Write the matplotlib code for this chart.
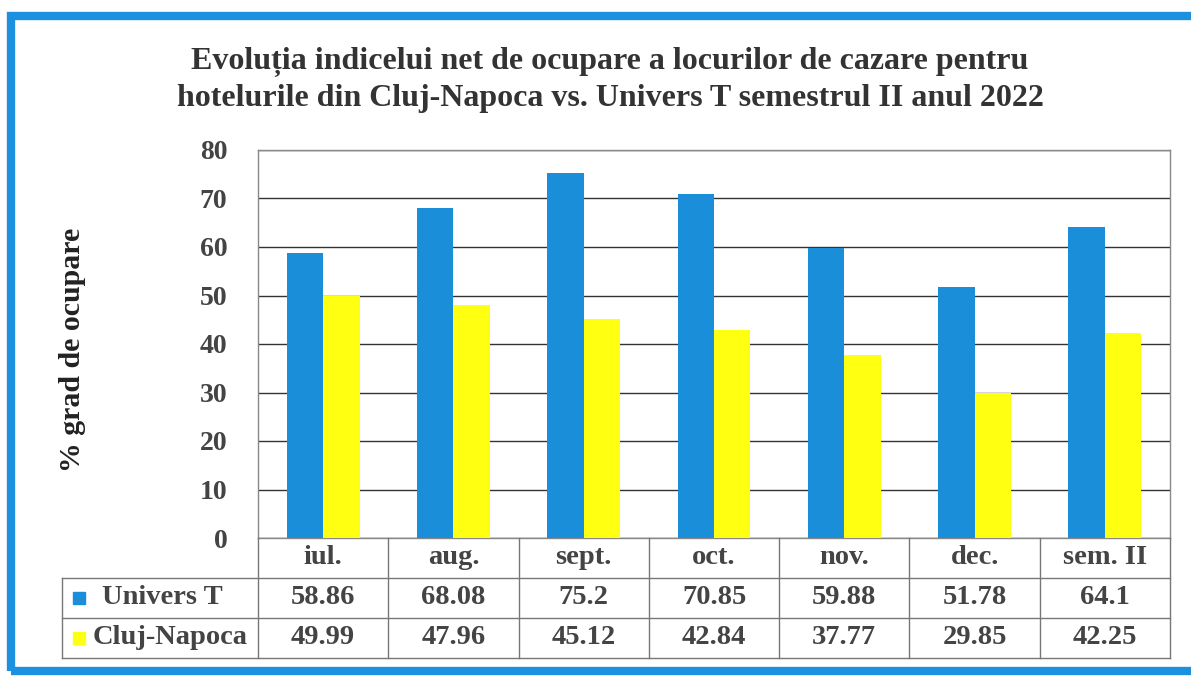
import numpy as np
import matplotlib.pyplot as plt
from matplotlib.patches import Rectangle

months = ['iul.', 'aug.', 'sept.', 'oct.', 'nov.', 'dec.', 'sem. II']
series_names = ['Univers T', 'Cluj-Napoca']
univers_t = [58.86, 68.08, 75.2, 70.85, 59.88, 51.78, 64.1]
cluj_napoca = [49.99, 47.96, 45.12, 42.84, 37.77, 29.85, 42.25]
value_labels = [['58.86', '68.08', '75.2', '70.85', '59.88', '51.78', '64.1'],
                ['49.99', '47.96', '45.12', '42.84', '37.77', '29.85', '42.25']]

colors = ['#1a8ed9', '#ffff12']
txt = '#444444'
plt.rcParams['font.family'] = ['Liberation Serif', 'DejaVu Serif']
plt.rcParams['font.weight'] = 'bold'

W, H = 1191, 679
fig = plt.figure(figsize=(W / 100, H / 100), dpi=100)


def fx(px):
    return px / W


def fy(py):
    return 1 - py / H


# blue frame
fig.patches.append(Rectangle((fx(11), fy(671)), fx(1250), fy(16) - fy(671), transform=fig.transFigure,
                             fill=False, edgecolor='#1e90e0', linewidth=6))

left, right, top, bottom = 258, 1170, 150, 538
ax = fig.add_axes([fx(left), fy(bottom), fx(right - left), fy(top) - fy(bottom)])

x = np.arange(len(months))
bw = 0.28
ax.bar(x - bw / 2, univers_t, bw, color=colors[0], zorder=3)
ax.bar(x + bw / 2, cluj_napoca, bw, color=colors[1], zorder=3)
ax.set_xlim(-0.5, len(months) - 0.5)
ax.set_ylim(0, 80)
ax.set_yticks(range(0, 81, 10))
ax.yaxis.grid(True, color='#333333', linewidth=1.0)
ax.set_axisbelow(True)
ax.tick_params(axis='y', length=0, pad=22, labelsize=20, labelcolor=txt)
ax.tick_params(axis='x', length=0, labelbottom=False)
for s in ax.spines.values():
    s.set_color('#888888')
    s.set_linewidth(1.0)

fig.text(fx(72), fy(350), '% grad de ocupare', rotation=90, ha='center', va='center',
         fontsize=21.5, fontweight='bold', color='#222222')

fig.text(fx(610), fy(80), 'Evoluția indicelui net de ocupare a locurilor de cazare pentru\n'
         'hotelurile din Cluj-Napoca vs. Univers T semestrul II anul 2022',
         ha='center', va='center', fontsize=23, color='#333333', linespacing=1.32)

# data table below the axes
col_w = (right - left) / len(months)
row_h = 40
label_left = 62
lc = '#777777'
edges_x = [left + i * col_w for i in range(len(months) + 1)]
# header row
for i, m in enumerate(months):
    fig.text(fx(left + (i + 0.5) * col_w), fy(bottom + row_h / 2), m, ha='center', va='center',
             fontsize=20.5, color=txt)
# value rows
name_x = [102, 93]
for r, name in enumerate(series_names):
    yc = bottom + row_h * (r + 1.5)
    for i, v in enumerate(value_labels[r]):
        fig.text(fx(left + (i + 0.5) * col_w), fy(yc), v, ha='center', va='center',
                 fontsize=20.5, color=txt)
    fig.patches.append(Rectangle((fx(73), fy(yc + 6)), fx(12), fy(yc - 6) - fy(yc + 6),
                                 transform=fig.transFigure, color=colors[r]))
    fig.text(fx(name_x[r]), fy(yc), name, ha='left', va='center', fontsize=20.5, color=txt)

lines = []
for ex in edges_x:
    lines.append(([ex, ex], [bottom, bottom + 3 * row_h]))
lines.append(([label_left, label_left], [bottom + row_h, bottom + 3 * row_h]))
for k in (1, 2, 3):
    lines.append(([label_left, right], [bottom + k * row_h, bottom + k * row_h]))
for xs, ys in lines:
    fig.add_artist(plt.Line2D([fx(v) for v in xs], [fy(v) for v in ys], color=lc, linewidth=1.0))

fig.savefig('out.png', dpi=100)
